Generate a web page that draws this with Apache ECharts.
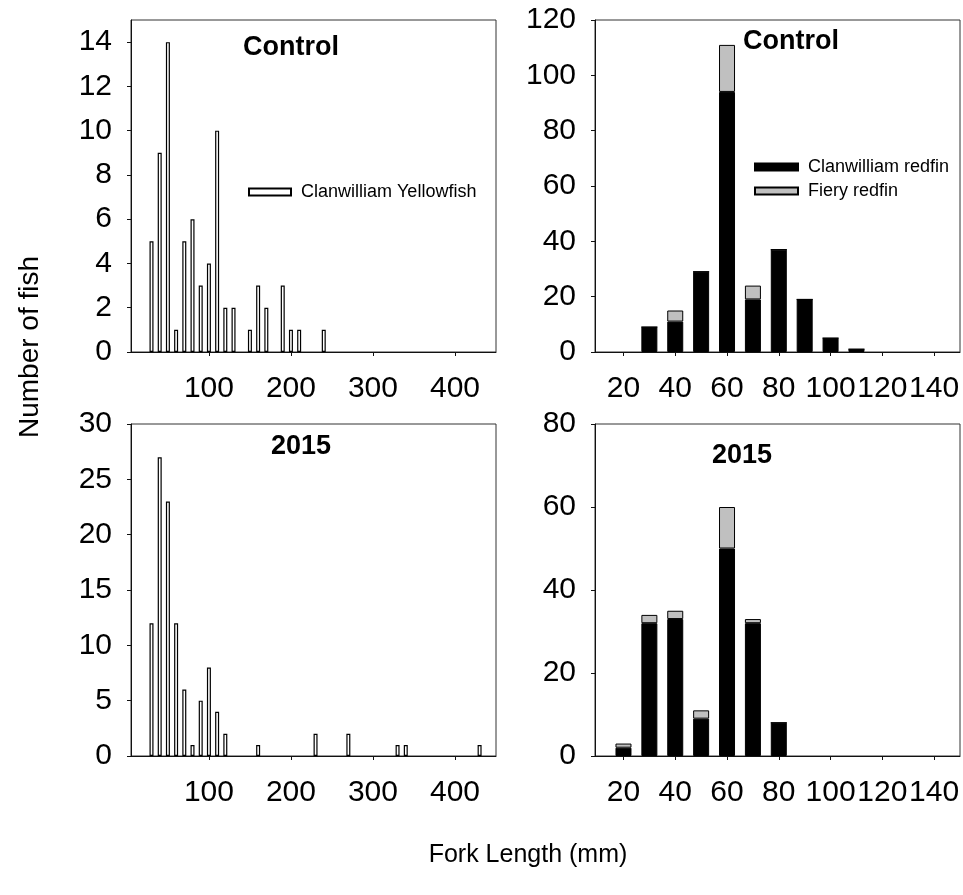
<!DOCTYPE html>
<html>
<head>
<meta charset="utf-8">
<script src="https://cdn.jsdelivr.net/npm/echarts@6/dist/echarts.min.js"></script>
<style>
  html, body { margin: 0; padding: 0; background: #fff; }
  #chart { width: 963px; height: 895px; }
</style>
</head>
<body>
<div id="chart"></div>
<script>
// Clanwilliam Yellowfish length-frequency (10 mm classes)
const yellowLengthControl = [30, 40, 50, 60, 70, 80, 90, 100, 110, 120, 130, 150, 160, 170, 190, 200, 210, 240];
const yellowCountControl  = [5, 9, 14, 1, 5, 6, 3, 4, 10, 2, 2, 1, 3, 2, 3, 1, 1, 1];
const yellowLength2015    = [30, 40, 50, 60, 70, 80, 90, 100, 110, 120, 160, 230, 270, 330, 340, 430];
const yellowCount2015     = [12, 27, 23, 12, 6, 1, 5, 8, 4, 2, 1, 2, 2, 1, 1, 1];

// Redfin length-frequency, stacked by species
const redfinLengthControl = [30, 40, 50, 60, 70, 80, 90, 100, 110];
const clanRedfinControl   = [9, 11, 29, 94, 19, 37, 19, 5, 1];
const fieryRedfinControl  = [0, 4, 0, 17, 5, 0, 0, 0, 0];
const redfinLength2015    = [20, 30, 40, 50, 60, 70, 80];
const clanRedfin2015      = [2, 32, 33, 9, 50, 32, 8];
const fieryRedfin2015     = [1, 2, 2, 2, 10, 1, 0];

// Tick labels
const yellowTicksX = [100, 200, 300, 400];
const redfinTicksX = [20, 40, 60, 80, 100, 120, 140];
const ticksYTopLeft = [0, 2, 4, 6, 8, 10, 12, 14];
const ticksYBottomLeft = [0, 5, 10, 15, 20, 25, 30];
const ticksYTopRight = [0, 20, 40, 60, 80, 100, 120];
const ticksYBottomRight = [0, 20, 40, 60, 80];

const FONT = '"Liberation Sans", Arial, sans-serif';
// rows of [count, length]: count first so it is the stacked dimension
const rows = (xs, ys) => xs.map((x, i) => [ys[i], x]);
const ENC = { x: 1, y: 0 };

const grids = [
  { left: 131, top: 20, width: 365, height: 332 },
  { left: 595, top: 20, width: 365, height: 332 },
  { left: 131, top: 424, width: 365, height: 332 },
  { left: 595, top: 424, width: 365, height: 332 }
].map(g => Object.assign({ show: true, borderColor: '#333', borderWidth: 1, backgroundColor: 'transparent' }, g));

function xAxis(gridIndex, min, max, ticks) {
  return {
    type: 'value', gridIndex, min, max,
    axisLine: { show: true, onZero: false, lineStyle: { color: '#111', width: 1 } },
    axisTick: { show: true, inside: false, length: 4, customValues: ticks, lineStyle: { color: '#111' } },
    axisLabel: { customValues: ticks, margin: 22, fontFamily: FONT, fontSize: 30, color: '#000' },
    splitLine: { show: false }
  };
}
function yAxis(gridIndex, max, ticks) {
  return {
    type: 'value', gridIndex, min: 0, max,
    axisLine: { show: true, lineStyle: { color: '#111', width: 1 } },
    axisTick: { show: true, inside: false, length: 4, customValues: ticks, lineStyle: { color: '#111' } },
    axisLabel: { customValues: ticks, margin: 19, fontFamily: FONT, fontSize: 30, color: '#000' },
    splitLine: { show: false }
  };
}

const whiteBar = { color: '#ffffff', borderColor: '#000', borderWidth: 1.2 };
const blackBar = { color: '#000000', borderColor: '#000', borderWidth: 1 };
const grayBar  = { color: '#c0c0c0', borderColor: '#000', borderWidth: 1 };

const option = {
  animation: false,
  backgroundColor: '#fff',
  grid: grids,
  xAxis: [
    xAxis(0, 5, 450, yellowTicksX),
    xAxis(1, 9, 150, redfinTicksX),
    xAxis(2, 5, 450, yellowTicksX),
    xAxis(3, 9, 150, redfinTicksX)
  ],
  yAxis: [
    yAxis(0, 15, ticksYTopLeft),
    yAxis(1, 120, ticksYTopRight),
    yAxis(2, 30, ticksYBottomLeft),
    yAxis(3, 80, ticksYBottomRight)
  ],
  legend: [
    {
      data: ['Clanwilliam Yellowfish'],
      left: 243, top: 178,
      itemWidth: 42, itemHeight: 7, icon: 'rect',
      selectedMode: false,
      textStyle: { fontFamily: FONT, fontSize: 18, color: '#000', padding: [0, 0, 0, 5] }
    },
    {
      data: ['Clanwilliam redfin', 'Fiery redfin'],
      orient: 'vertical',
      left: 749, top: 153,
      itemWidth: 43, itemHeight: 7, itemGap: 6, icon: 'rect',
      selectedMode: false,
      textStyle: { fontFamily: FONT, fontSize: 18, color: '#000', padding: [0, 0, 0, 5] }
    }
  ],
  series: [
    {
      name: 'Clanwilliam Yellowfish', type: 'bar', xAxisIndex: 0, yAxisIndex: 0, encode: ENC,
      barWidth: 4, itemStyle: whiteBar, data: rows(yellowLengthControl, yellowCountControl)
    },
    {
      name: 'Clanwilliam Yellowfish', type: 'bar', xAxisIndex: 2, yAxisIndex: 2, encode: ENC,
      barWidth: 4, itemStyle: whiteBar, data: rows(yellowLength2015, yellowCount2015)
    },
    {
      name: 'Clanwilliam redfin', type: 'bar', xAxisIndex: 1, yAxisIndex: 1, stack: 'control', encode: ENC,
      barWidth: 16, itemStyle: blackBar, data: rows(redfinLengthControl, clanRedfinControl)
    },
    {
      name: 'Fiery redfin', type: 'bar', xAxisIndex: 1, yAxisIndex: 1, stack: 'control', encode: ENC,
      barWidth: 16, itemStyle: grayBar, data: rows(redfinLengthControl, fieryRedfinControl)
    },
    {
      name: 'Clanwilliam redfin', type: 'bar', xAxisIndex: 3, yAxisIndex: 3, stack: 'y2015', encode: ENC,
      barWidth: 16, itemStyle: blackBar, data: rows(redfinLength2015, clanRedfin2015)
    },
    {
      name: 'Fiery redfin', type: 'bar', xAxisIndex: 3, yAxisIndex: 3, stack: 'y2015', encode: ENC,
      barWidth: 16, itemStyle: grayBar, data: rows(redfinLength2015, fieryRedfin2015)
    }
  ],
  graphic: [
    { type: 'text', x: 291, y: 48, style: { text: 'Control', font: 'bold 27px ' + FONT, fill: '#000', align: 'center', verticalAlign: 'middle' } },
    { type: 'text', x: 791, y: 42, style: { text: 'Control', font: 'bold 27px ' + FONT, fill: '#000', align: 'center', verticalAlign: 'middle' } },
    { type: 'text', x: 301, y: 447, style: { text: '2015', font: 'bold 27px ' + FONT, fill: '#000', align: 'center', verticalAlign: 'middle' } },
    { type: 'text', x: 742, y: 456, style: { text: '2015', font: 'bold 27px ' + FONT, fill: '#000', align: 'center', verticalAlign: 'middle' } },
    { type: 'text', x: 528, y: 855, style: { text: 'Fork Length (mm)', font: '25px ' + FONT, fill: '#000', align: 'center', verticalAlign: 'middle' } },
    { type: 'text', x: 30, y: 347, rotation: Math.PI / 2, style: { text: 'Number of fish', font: '28px ' + FONT, fill: '#000', align: 'center', verticalAlign: 'middle' } }
  ]
};

const chart = echarts.init(document.getElementById('chart'), null, { renderer: 'canvas' });
chart.setOption(option);
</script>
</body>
</html>
